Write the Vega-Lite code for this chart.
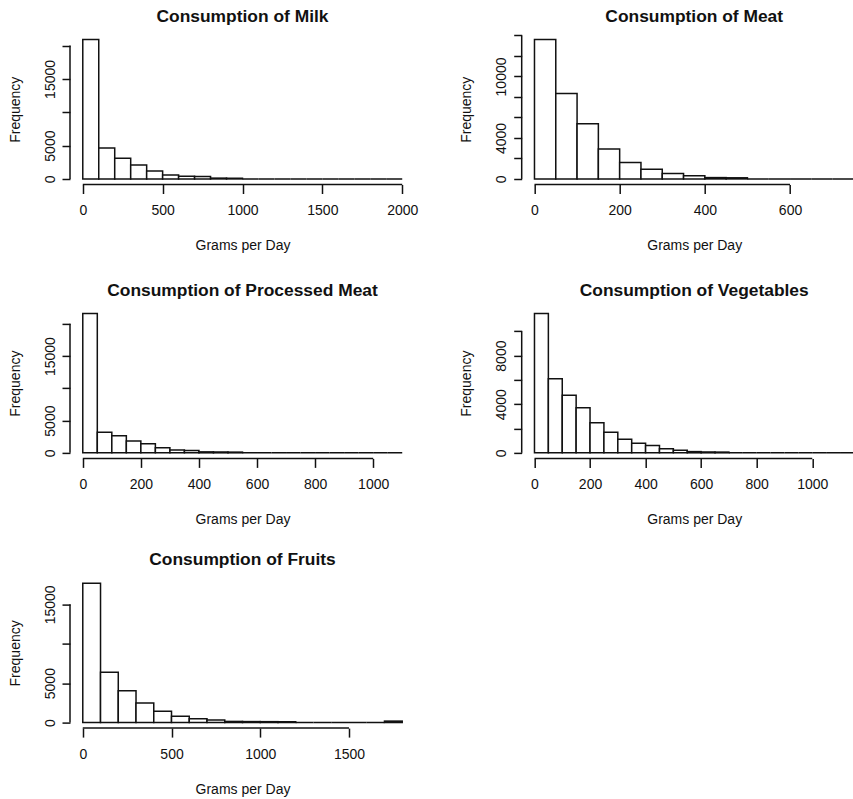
{
  "$schema": "https://vega.github.io/schema/vega-lite/v6.json",
  "background": "white",
  "padding": {"left": 8, "top": 7, "right": 0, "bottom": 0},
  "config": {
    "font": "Liberation Sans",
    "view": {"stroke": null},
    "axis": {"domain": false, "grid": false, "tickColor": "#111", "tickWidth": 1.5, "labelColor": "#111", "labelFontSize": 14, "titleFontSize": 14, "titleFontWeight": "normal", "titleColor": "#111", "labelFont": "Liberation Sans", "titleFont": "Liberation Sans", "labelOverlap": false, "labelFlush": false, "tickCount": 30},
    "axisX": {"tickSize": 9, "labelPadding": 10, "titlePadding": 21},
    "axisY": {"tickSize": 8, "labelPadding": 5, "titlePadding": 21, "labelAngle": -90, "labelAlign": "center", "labelBaseline": "bottom"},
    "title": {"fontSize": 17.4, "fontWeight": "bold", "color": "#111", "font": "Liberation Sans", "anchor": "middle", "offset": 9, "baseline": "bottom"}
  },
  "datasets": {
    "milk": [
      {"lo": 0, "hi": 100, "n": 20900}, {"lo": 100, "hi": 200, "n": 4650}, {"lo": 200, "hi": 300, "n": 3100}, {"lo": 300, "hi": 400, "n": 2100}, {"lo": 400, "hi": 500, "n": 1200}, {"lo": 500, "hi": 600, "n": 600}, {"lo": 600, "hi": 700, "n": 400}, {"lo": 700, "hi": 800, "n": 350}, {"lo": 800, "hi": 900, "n": 120}, {"lo": 900, "hi": 1000, "n": 100},
      {"lo": 1000, "hi": 1100, "n": 0}, {"lo": 1100, "hi": 1200, "n": 0}, {"lo": 1200, "hi": 1300, "n": 0}, {"lo": 1300, "hi": 1400, "n": 0}, {"lo": 1400, "hi": 1500, "n": 0}, {"lo": 1500, "hi": 1600, "n": 0}, {"lo": 1600, "hi": 1700, "n": 0}, {"lo": 1700, "hi": 1800, "n": 0}, {"lo": 1800, "hi": 1900, "n": 0}, {"lo": 1900, "hi": 2000, "n": 0}
    ],
    "meat": [
      {"lo": 0, "hi": 50, "n": 13600}, {"lo": 50, "hi": 100, "n": 8340}, {"lo": 100, "hi": 150, "n": 5380}, {"lo": 150, "hi": 200, "n": 2920}, {"lo": 200, "hi": 250, "n": 1610}, {"lo": 250, "hi": 300, "n": 950}, {"lo": 300, "hi": 350, "n": 530}, {"lo": 350, "hi": 400, "n": 300}, {"lo": 400, "hi": 450, "n": 130}, {"lo": 450, "hi": 500, "n": 110},
      {"lo": 500, "hi": 550, "n": 0}, {"lo": 550, "hi": 600, "n": 0}, {"lo": 600, "hi": 650, "n": 0}, {"lo": 650, "hi": 700, "n": 0}, {"lo": 700, "hi": 750, "n": 0}
    ],
    "processed": [
      {"lo": 0, "hi": 50, "n": 21610}, {"lo": 50, "hi": 100, "n": 3180}, {"lo": 100, "hi": 150, "n": 2660}, {"lo": 150, "hi": 200, "n": 1830}, {"lo": 200, "hi": 250, "n": 1410}, {"lo": 250, "hi": 300, "n": 780}, {"lo": 300, "hi": 350, "n": 420}, {"lo": 350, "hi": 400, "n": 370}, {"lo": 400, "hi": 450, "n": 150}, {"lo": 450, "hi": 500, "n": 130}, {"lo": 500, "hi": 550, "n": 110},
      {"lo": 550, "hi": 600, "n": 0}, {"lo": 600, "hi": 650, "n": 0}, {"lo": 650, "hi": 700, "n": 0}, {"lo": 700, "hi": 750, "n": 0}, {"lo": 750, "hi": 800, "n": 0}, {"lo": 800, "hi": 850, "n": 0}, {"lo": 850, "hi": 900, "n": 0}, {"lo": 900, "hi": 950, "n": 0}, {"lo": 950, "hi": 1000, "n": 0}, {"lo": 1000, "hi": 1050, "n": 0}, {"lo": 1050, "hi": 1100, "n": 0}
    ],
    "veg": [
      {"lo": 0, "hi": 50, "n": 11465}, {"lo": 50, "hi": 100, "n": 6090}, {"lo": 100, "hi": 150, "n": 4740}, {"lo": 150, "hi": 200, "n": 3700}, {"lo": 200, "hi": 250, "n": 2470}, {"lo": 250, "hi": 300, "n": 1695}, {"lo": 300, "hi": 350, "n": 1120}, {"lo": 350, "hi": 400, "n": 780}, {"lo": 400, "hi": 450, "n": 600}, {"lo": 450, "hi": 500, "n": 340}, {"lo": 500, "hi": 550, "n": 220}, {"lo": 550, "hi": 600, "n": 100}, {"lo": 600, "hi": 650, "n": 70}, {"lo": 650, "hi": 700, "n": 60},
      {"lo": 700, "hi": 750, "n": 0}, {"lo": 750, "hi": 800, "n": 0}, {"lo": 800, "hi": 850, "n": 0}, {"lo": 850, "hi": 900, "n": 0}, {"lo": 900, "hi": 950, "n": 0}, {"lo": 950, "hi": 1000, "n": 0}, {"lo": 1000, "hi": 1050, "n": 0}, {"lo": 1050, "hi": 1100, "n": 0}, {"lo": 1100, "hi": 1150, "n": 0}
    ],
    "fruit": [
      {"lo": 0, "hi": 100, "n": 17690}, {"lo": 100, "hi": 200, "n": 6370}, {"lo": 200, "hi": 300, "n": 4020}, {"lo": 300, "hi": 400, "n": 2480}, {"lo": 400, "hi": 500, "n": 1420}, {"lo": 500, "hi": 600, "n": 800}, {"lo": 600, "hi": 700, "n": 480}, {"lo": 700, "hi": 800, "n": 320}, {"lo": 800, "hi": 900, "n": 140}, {"lo": 900, "hi": 1000, "n": 120}, {"lo": 1000, "hi": 1100, "n": 110}, {"lo": 1100, "hi": 1200, "n": 100},
      {"lo": 1200, "hi": 1300, "n": 0}, {"lo": 1300, "hi": 1400, "n": 0}, {"lo": 1400, "hi": 1500, "n": 0}, {"lo": 1500, "hi": 1600, "n": 0}, {"lo": 1600, "hi": 1700, "n": 0}, {"lo": 1700, "hi": 1800, "n": 180}
    ]
  },
  "spacing": 27.9,
  "bounds": "full",
  "vconcat": [
    {
      "spacing": 106.7,
      "bounds": "flush",
      "hconcat": [
        {
          "width": 345, "height": 150.5,
          "title": "Consumption of Milk",
          "layer": [
            {"data": {"name": "milk"}, "mark": {"type": "rect", "fill": "white", "stroke": "#111", "strokeWidth": 1.5},
             "encoding": {
               "x": {"field": "lo", "type": "quantitative", "scale": {"domain": [-80, 2080], "nice": false, "zero": false}, "axis": {"title": "Grams per Day", "values": [0, 500, 1000, 1500, 2000], "format": "d"}},
               "x2": {"field": "hi"},
               "y": {"field": "n", "type": "quantitative", "scale": {"domain": [-836, 21736], "nice": false, "zero": false}, "axis": {"title": "Frequency", "values": [0, 5000, 10000, 15000, 20000], "labelExpr": "datum.value == 0 || datum.value == 5000 || datum.value == 15000 ? '' + datum.value : ''"}},
               "y2": {"datum": 0}
             }},
            {"data": {"values": [{}]}, "mark": {"type": "rule", "color": "#111", "strokeWidth": 1.5},
             "encoding": {"x": {"datum": 0, "type": "quantitative"}, "x2": {"datum": 2000}, "y": {"datum": -836, "type": "quantitative"}}},
            {"data": {"values": [{}]}, "mark": {"type": "rule", "color": "#111", "strokeWidth": 1.5},
             "encoding": {"x": {"datum": -80, "type": "quantitative"}, "y": {"datum": 0, "type": "quantitative"}, "y2": {"datum": 20000}}}
          ]
        },
        {
          "width": 345, "height": 150.5,
          "title": "Consumption of Meat",
          "layer": [
            {"data": {"name": "meat"}, "mark": {"type": "rect", "fill": "white", "stroke": "#111", "strokeWidth": 1.5},
             "encoding": {
               "x": {"field": "lo", "type": "quantitative", "scale": {"domain": [-30, 780], "nice": false, "zero": false}, "axis": {"title": "Grams per Day", "values": [0, 200, 400, 600], "format": "d"}},
               "x2": {"field": "hi"},
               "y": {"field": "n", "type": "quantitative", "scale": {"domain": [-544, 14144], "nice": false, "zero": false}, "axis": {"title": "Frequency", "values": [0, 2000, 4000, 6000, 8000, 10000, 12000, 14000], "labelExpr": "datum.value == 0 || datum.value == 4000 || datum.value == 10000 ? '' + datum.value : ''"}},
               "y2": {"datum": 0}
             }},
            {"data": {"values": [{}]}, "mark": {"type": "rule", "color": "#111", "strokeWidth": 1.5},
             "encoding": {"x": {"datum": 0, "type": "quantitative"}, "x2": {"datum": 600}, "y": {"datum": -544, "type": "quantitative"}}},
            {"data": {"values": [{}]}, "mark": {"type": "rule", "color": "#111", "strokeWidth": 1.5},
             "encoding": {"x": {"datum": -30, "type": "quantitative"}, "y": {"datum": 0, "type": "quantitative"}, "y2": {"datum": 14000}}}
          ]
        }
      ]
    },
    {
      "spacing": 23.7,
      "bounds": "full",
      "vconcat": [
        {
          "spacing": 106.7,
          "bounds": "flush",
          "hconcat": [
            {
              "width": 345, "height": 150.5,
              "title": "Consumption of Processed Meat",
              "layer": [
                {"data": {"name": "processed"}, "mark": {"type": "rect", "fill": "white", "stroke": "#111", "strokeWidth": 1.5},
                 "encoding": {
                   "x": {"field": "lo", "type": "quantitative", "scale": {"domain": [-44, 1144], "nice": false, "zero": false}, "axis": {"title": "Grams per Day", "values": [0, 200, 400, 600, 800, 1000], "format": "d"}},
                   "x2": {"field": "hi"},
                   "y": {"field": "n", "type": "quantitative", "scale": {"domain": [-864, 22474], "nice": false, "zero": false}, "axis": {"title": "Frequency", "values": [0, 5000, 10000, 15000, 20000], "labelExpr": "datum.value == 0 || datum.value == 5000 || datum.value == 15000 ? '' + datum.value : ''"}},
                   "y2": {"datum": 0}
                 }},
                {"data": {"values": [{}]}, "mark": {"type": "rule", "color": "#111", "strokeWidth": 1.5},
                 "encoding": {"x": {"datum": 0, "type": "quantitative"}, "x2": {"datum": 1000}, "y": {"datum": -864, "type": "quantitative"}}},
                {"data": {"values": [{}]}, "mark": {"type": "rule", "color": "#111", "strokeWidth": 1.5},
                 "encoding": {"x": {"datum": -44, "type": "quantitative"}, "y": {"datum": 0, "type": "quantitative"}, "y2": {"datum": 20000}}}
              ]
            },
            {
              "width": 345, "height": 150.5,
              "title": "Consumption of Vegetables",
              "layer": [
                {"data": {"name": "veg"}, "mark": {"type": "rect", "fill": "white", "stroke": "#111", "strokeWidth": 1.5},
                 "encoding": {
                   "x": {"field": "lo", "type": "quantitative", "scale": {"domain": [-46, 1196], "nice": false, "zero": false}, "axis": {"title": "Grams per Day", "values": [0, 200, 400, 600, 800, 1000], "format": "d"}},
                   "x2": {"field": "hi"},
                   "y": {"field": "n", "type": "quantitative", "scale": {"domain": [-459, 11924], "nice": false, "zero": false}, "axis": {"title": "Frequency", "values": [0, 2000, 4000, 6000, 8000, 10000], "labelExpr": "datum.value == 0 || datum.value == 4000 || datum.value == 8000 ? '' + datum.value : ''"}},
                   "y2": {"datum": 0}
                 }},
                {"data": {"values": [{}]}, "mark": {"type": "rule", "color": "#111", "strokeWidth": 1.5},
                 "encoding": {"x": {"datum": 0, "type": "quantitative"}, "x2": {"datum": 1000}, "y": {"datum": -459, "type": "quantitative"}}},
                {"data": {"values": [{}]}, "mark": {"type": "rule", "color": "#111", "strokeWidth": 1.5},
                 "encoding": {"x": {"datum": -46, "type": "quantitative"}, "y": {"datum": 0, "type": "quantitative"}, "y2": {"datum": 10000}}}
              ]
            }
          ]
        },
        {
          "width": 345, "height": 150.5,
          "title": "Consumption of Fruits",
          "layer": [
            {"data": {"name": "fruit"}, "mark": {"type": "rect", "fill": "white", "stroke": "#111", "strokeWidth": 1.5},
             "encoding": {
               "x": {"field": "lo", "type": "quantitative", "scale": {"domain": [-72, 1872], "nice": false, "zero": false}, "axis": {"title": "Grams per Day", "values": [0, 500, 1000, 1500], "format": "d"}},
               "x2": {"field": "hi"},
               "y": {"field": "n", "type": "quantitative", "scale": {"domain": [-708, 18398], "nice": false, "zero": false}, "axis": {"title": "Frequency", "values": [0, 5000, 10000, 15000], "labelExpr": "datum.value == 0 || datum.value == 5000 || datum.value == 15000 ? '' + datum.value : ''"}},
               "y2": {"datum": 0}
             }},
            {"data": {"values": [{}]}, "mark": {"type": "rule", "color": "#111", "strokeWidth": 1.5},
             "encoding": {"x": {"datum": 0, "type": "quantitative"}, "x2": {"datum": 1500}, "y": {"datum": -708, "type": "quantitative"}}},
            {"data": {"values": [{}]}, "mark": {"type": "rule", "color": "#111", "strokeWidth": 1.5},
             "encoding": {"x": {"datum": -72, "type": "quantitative"}, "y": {"datum": 0, "type": "quantitative"}, "y2": {"datum": 15000}}}
          ]
        }
      ]
    }
  ]
}
